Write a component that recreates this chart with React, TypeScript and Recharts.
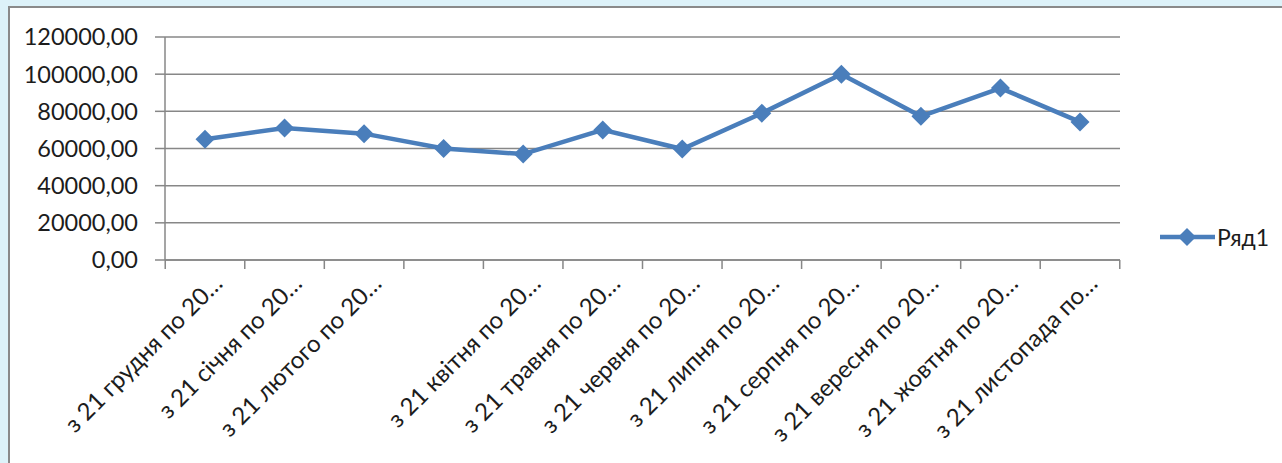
import { LineChart, Line, XAxis, YAxis, CartesianGrid, Legend } from "recharts";

// періоди (мітки осі X, як їх обрізав Excel); мітка за березень на осі не показана
const periods = [
  "з 21 грудня по 20…",
  "з 21 січня по 20…",
  "з 21 лютого по 20…",
  "",
  "з 21 квітня по 20…",
  "з 21 травня по 20…",
  "з 21 червня по 20…",
  "з 21 липня по 20…",
  "з 21 серпня по 20…",
  "з 21 вересня по 20…",
  "з 21 жовтня по 20…",
  "з 21 листопада по…",
];

const ryad1 = [65000, 71000, 68000, 60000, 57000, 70000, 59700, 79000, 100000, 77300, 92500, 74300];

const yTicks = [0, 20000, 40000, 60000, 80000, 100000, 120000];

const seriesName = "Ряд1";

const data = periods.map((period, i) => ({ period, value: ryad1[i] }));

const BLUE = "#4A7EBB";
const GRID = "#878787";
const TEXT = "#1c1c1c";
const FONT = "Lato, 'Open Sans', sans-serif";
const PAD = 40;

const fmt = (v: number) => v.toFixed(2).replace(".", ",");

function Diamond(props: any) {
  const { cx, cy, index } = props;
  if (cx == null || cy == null) return null;
  const r = 9.5;
  return (
    <path
      key={`d-${index}`}
      d={`M${cx},${cy - r}L${cx + r},${cy}L${cx},${cy + r}L${cx - r},${cy}Z`}
      fill={BLUE}
    />
  );
}

function PeriodTick(props: any) {
  const { x, y, payload, index, width, visibleTicksCount } = props;
  const n = visibleTicksCount || periods.length;
  const step = width ? (width - PAD * 2) / (n - 1) : 79.6;
  return (
    <g>
      <line x1={x - step / 2} y1={y} x2={x - step / 2} y2={y + 9} stroke={GRID} strokeWidth={1.5} />
      {index === n - 1 && (
        <line x1={x + step / 2} y1={y} x2={x + step / 2} y2={y + 9} stroke={GRID} strokeWidth={1.5} />
      )}
      <text
        transform={`translate(${x + 19},${y + 25}) rotate(-45)`}
        textAnchor="end"
        fontSize={24}
        fontFamily={FONT}
        fill={TEXT}
      >
        {payload.value}
      </text>
    </g>
  );
}

function LegendBox() {
  return (
    <div style={{ display: "flex", alignItems: "center", fontFamily: FONT, fontSize: 23, color: TEXT }}>
      <svg width={58} height={20}>
        <line x1={1} y1={10} x2={56} y2={10} stroke={BLUE} strokeWidth={4.5} />
        <path d="M28,1L37,10L28,19L19,10Z" fill={BLUE} />
      </svg>
      <span style={{ lineHeight: "20px" }}>{seriesName}</span>
    </div>
  );
}

export default function App() {
  return (
    <div
      style={{
        position: "absolute",
        left: 0,
        top: 0,
        width: 1282,
        height: 463,
        background: "#DDF2F9",
        overflow: "hidden",
      }}
    >
      <div
        style={{
          position: "absolute",
          left: 8,
          top: 6,
          width: 1300,
          height: 500,
          border: "2px solid #8a8a8a",
          background: "#ffffff",
        }}
      />
      <div style={{ position: "absolute", left: 0, top: 0 }}>
        <LineChart width={1282} height={463} data={data} margin={{ top: 37, right: 162, bottom: 0, left: 0 }}>
          <CartesianGrid vertical={false} stroke={GRID} strokeWidth={1.5} />
          <XAxis
            dataKey="period"
            interval={0}
            height={203}
            padding={{ left: PAD, right: PAD }}
            axisLine={{ stroke: GRID, strokeWidth: 1.5 }}
            tickLine={false}
            tickSize={0}
            tickMargin={0}
            tick={<PeriodTick />}
          />
          <YAxis
            width={165}
            domain={[0, 120000]}
            ticks={yTicks}
            interval={0}
            tickFormatter={fmt}
            axisLine={{ stroke: GRID, strokeWidth: 1.5 }}
            tickLine={{ stroke: GRID, strokeWidth: 1.5 }}
            tickSize={10}
            tickMargin={17}
            tick={{ fill: TEXT, fontSize: 23.5, fontFamily: FONT }}
          />
          <Line
            type="linear"
            dataKey="value"
            name={seriesName}
            stroke={BLUE}
            strokeWidth={4.5}
            dot={Diamond}
            activeDot={false}
            isAnimationActive={false}
          />
          <Legend
            layout="vertical"
            align="center"
            verticalAlign="middle"
            wrapperStyle={{ left: 1159, top: 227, width: "auto" }}
            content={() => <LegendBox />}
          />
        </LineChart>
      </div>
    </div>
  );
}
